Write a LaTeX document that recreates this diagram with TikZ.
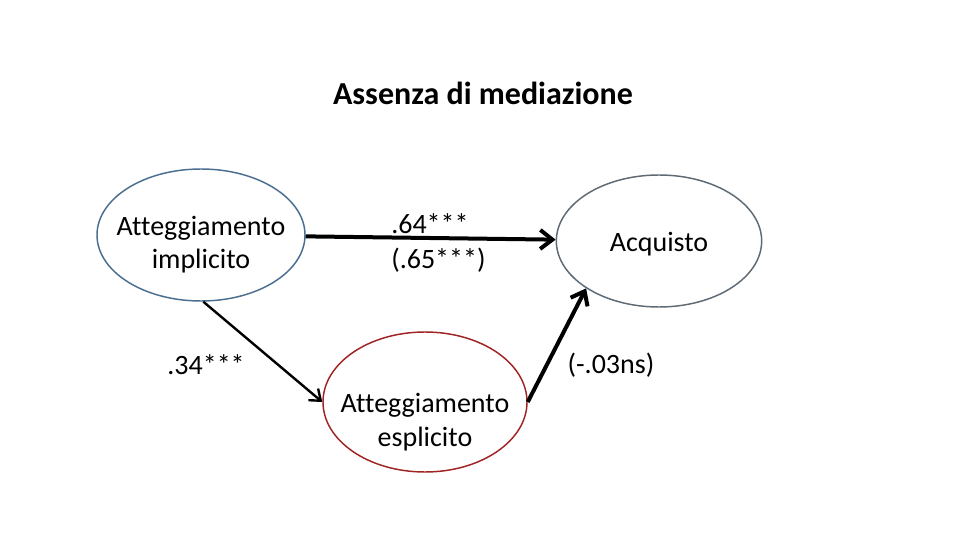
\documentclass[tikz,border=0pt]{standalone}
\usepackage{fontspec}
\setmainfont{Carlito}[Ligatures=NoCommon]
\usepackage{xcolor}
\usetikzlibrary{arrows.meta,positioning,shapes.geometric}
\definecolor{medblue}{HTML}{4A6E8F}
\definecolor{medgray}{HTML}{5E6A74}
\definecolor{medred}{HTML}{A02424}
\tikzset{
  latent/.style={ellipse, draw=medblue, line width=1.1pt, fill=white, inner sep=0pt},
  latenttext/.style={align=center, font=\fontsize{21}{25}\selectfont},
  coef/.style={font=\fontsize{21}{24}\selectfont, inner sep=0pt},
  path/.style={-{Straight Barb[length=3.2mm,width=5mm]}, line width=3pt, draw=black},
  thinpath/.style={-{Straight Barb[length=2.6mm,width=4mm]}, line width=1.8pt, draw=black}
}

\begin{document}
\begin{tikzpicture}[x=0.75pt,y=0.75pt]
  \useasboundingbox[fill=white] (0,0) rectangle (960,540);
  \node[font=\bfseries\fontsize{24}{28}\selectfont] (title) at (483,447) {Assenza di mediazione};

  \node[latent, minimum width=156pt, minimum height=99pt,
    label={[latenttext, yshift=-7pt]center:{Atteggiamento\\implicito}}] (impl) at (201,305) {};
  \node[latent, draw=medgray, minimum width=154pt, minimum height=99pt,
    label={[latenttext, yshift=-2pt]center:Acquisto}] (acq) at (659,299) {};
  \node[latent, draw=medred, minimum width=153pt, minimum height=105pt,
    label={[latenttext, yshift=-15pt]center:{Atteggiamento\\esplicito}}] (espl) at (425,138) {};

  \node[coef, anchor=west] (c1) at (391,316) {.64***};
  \node[coef, anchor=west] (c1b) at (391,280) {(.65***)};
  \node[coef] (c2) at (206,175) {.34***};
  \node[coef] (c3) at (611,175) {(-.03ns)};

  \draw[path] (impl) -- (acq);
  \draw[thinpath] (impl.-88) -- (espl.west);
  \draw[path] (espl.east) -- (acq.213);
\end{tikzpicture}
\end{document}
